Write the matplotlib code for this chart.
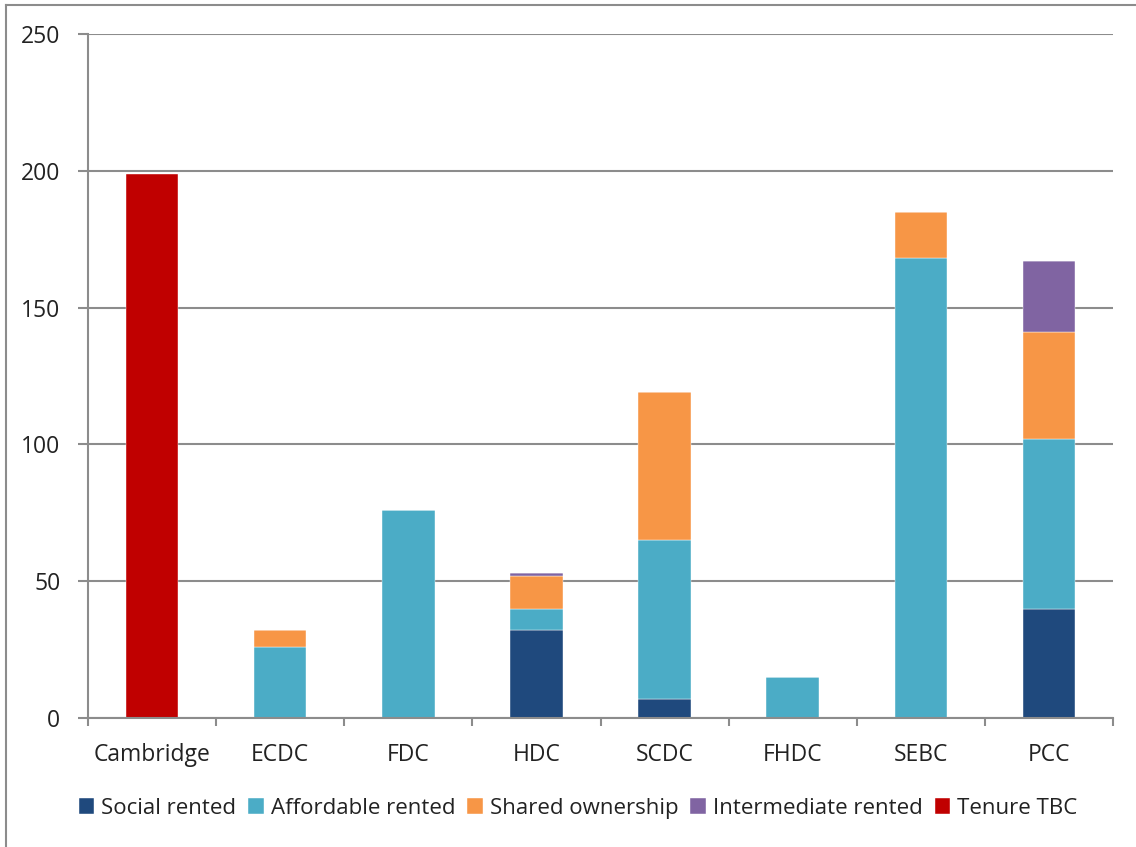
import numpy as np
import matplotlib
matplotlib.use('Agg')
import matplotlib.pyplot as plt
from matplotlib.lines import Line2D

plt.rcParams['font.family'] = ['Open Sans', 'DejaVu Sans']

councils = ['Cambridge', 'ECDC', 'FDC', 'HDC', 'SCDC', 'FHDC', 'SEBC', 'PCC']
social = [0, 0, 0, 32, 7, 0, 0, 40]
affordable = [0, 26, 76, 8, 58, 15, 168, 62]
shared = [0, 6, 0, 12, 54, 0, 17, 39]
intermediate = [0, 0, 0, 1, 0, 0, 0, 26]
tenure_tbc = [199, 0, 0, 0, 0, 0, 0, 0]

series = [
    ('Social rented', social, '#1F497D'),
    ('Affordable rented', affordable, '#4BACC6'),
    ('Shared ownership', shared, '#F79646'),
    ('Intermediate rented', intermediate, '#8064A2'),
    ('Tenure TBC', tenure_tbc, '#C00000'),
]

fig = plt.figure(figsize=(11.36, 8.47), dpi=100)
ax = fig.add_axes([0.0775, 0.1523, 0.9023, 0.8076])

x = np.arange(len(councils))
bottom = np.zeros(len(councils))
for name, vals, col in series:
    vals = np.array(vals, dtype=float)
    ax.bar(x, vals, 0.41, bottom=bottom, color=col, label=name,
           edgecolor='white', linewidth=0.3, zorder=3)
    bottom += vals

grid_col = '#8c8c8c'
txt_col = '#222222'
ax.set_xlim(-0.5, len(councils) - 0.5)
ax.set_ylim(0, 250)
ax.set_yticks(np.arange(0, 251, 50))
ax.yaxis.grid(True, color=grid_col, linewidth=1.5, zorder=0)
for s in ['top', 'right']:
    ax.spines[s].set_visible(False)
for s in ['left', 'bottom']:
    ax.spines[s].set_color(grid_col)
    ax.spines[s].set_linewidth(1.5)
    ax.spines[s].set_zorder(4)

ax.set_xticks(x)
ax.set_xticklabels(councils)
ax.set_xticks(np.arange(-0.5, len(councils)), minor=True)
ax.tick_params(axis='x', which='major', length=0, pad=18, labelsize=16.5, labelcolor=txt_col)
ax.tick_params(axis='x', which='minor', length=6, width=1.5, color=grid_col)
ax.tick_params(axis='y', length=7, width=1.5, color=grid_col, pad=13, labelsize=16.5, labelcolor=txt_col)

handles, labels = ax.get_legend_handles_labels()
fig.legend(handles, labels, loc='center', bbox_to_anchor=(578 / 1136, 1 - 808 / 847), ncol=5,
           frameon=False, fontsize=16, handlelength=0.7, handleheight=0.7, handletextpad=0.3,
           columnspacing=0.55, labelcolor=txt_col)

# outer frame (left and top edges visible)
fig.add_artist(Line2D([6 / 1136, 6 / 1136], [0, 1 - 5 / 847], color=grid_col, linewidth=1.5))
fig.add_artist(Line2D([6 / 1136, 1], [1 - 5 / 847, 1 - 5 / 847], color=grid_col, linewidth=1.5))

fig.savefig('out.png', dpi=100)
